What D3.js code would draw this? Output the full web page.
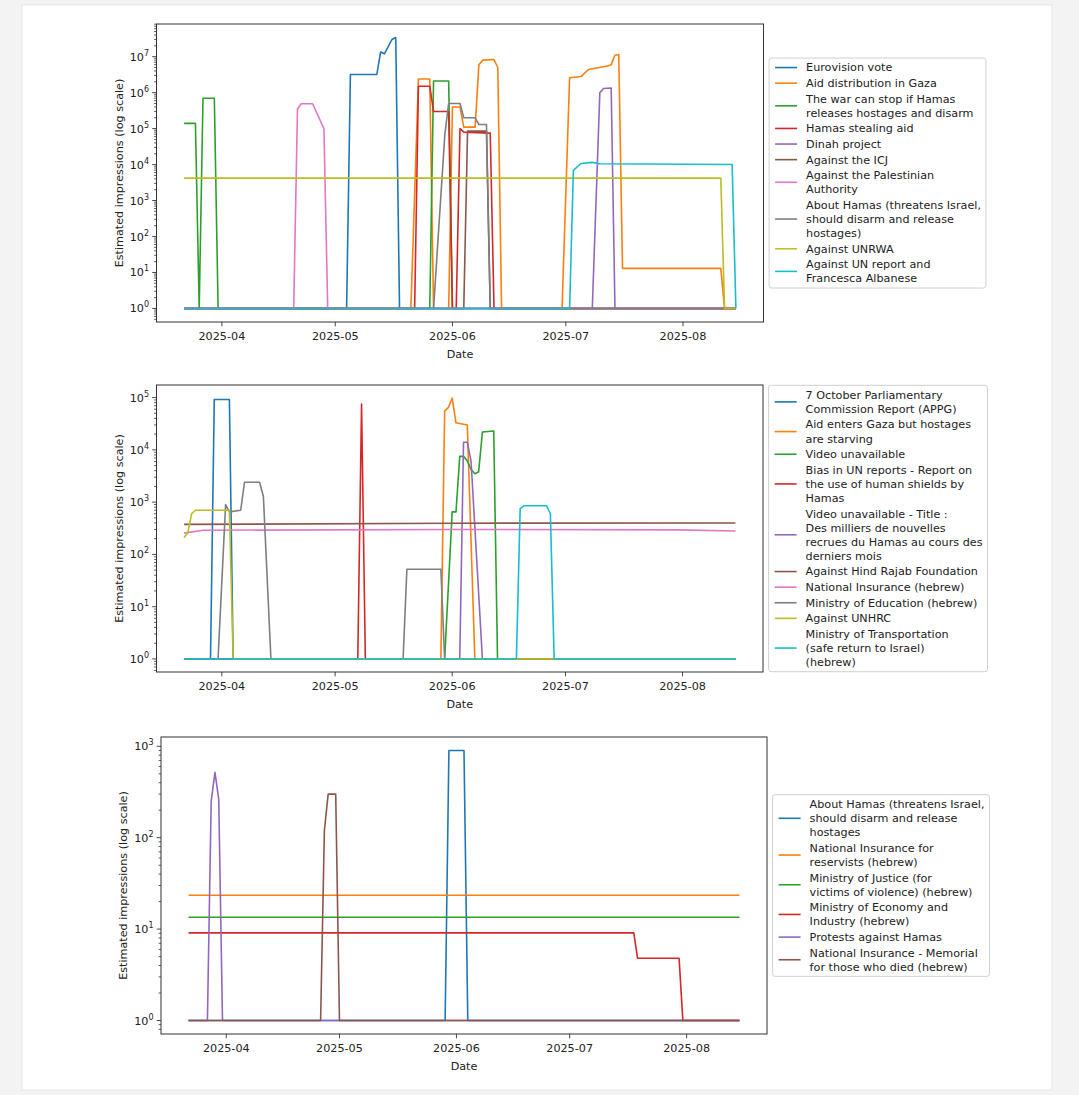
<!DOCTYPE html>
<html>
<head>
<meta charset="utf-8">
<script src="https://cdn.jsdelivr.net/npm/d3@7"></script>
<style>
  body { margin: 0; background: #f3f3f3; }
  text { font-family: "DejaVu Sans", sans-serif; fill: #222; }
</style>
</head>
<body>
<script>
// ---- data ----
var startDate = "2025-03-22", endDate = "2025-08-15";
var monthTicks = ["2025-04", "2025-05", "2025-06", "2025-07", "2025-08"];
var yLabel = "Estimated impressions (log scale)";
var xLabel = "Date";
var palette = ["#1f77b4", "#ff7f0e", "#2ca02c", "#d62728", "#9467bd",
               "#8c564b", "#e377c2", "#7f7f7f", "#bcbd22", "#17becf"];

// top panel
var topNames = ["Eurovision vote", "Aid distribution in Gaza",
  "The war can stop if Hamas\nreleases hostages and disarm", "Hamas stealing aid",
  "Dinah project", "Against the ICJ", "Against the Palestinian\nAuthority",
  "About Hamas (threatens Israel,\nshould disarm and release\nhostages)",
  "Against UNRWA", "Against UN report and\nFrancesca Albanese"];
var eurovision = [["2025-03-22",1],["2025-05-04",1],["2025-05-05",3.2e6],["2025-05-12",3.2e6],["2025-05-13",1.35e7],["2025-05-14",1.2e7],["2025-05-16",3.0e7],["2025-05-17",3.4e7],["2025-05-18",1],["2025-08-15",1]];
var aidDistribution = [["2025-03-22",1],["2025-05-21",1],["2025-05-23",2.4e6],["2025-05-26",2.4e6],["2025-05-27",1],["2025-05-31",1],["2025-06-01",4e5],["2025-06-03",4e5],["2025-06-04",1.1e5],["2025-06-07",1.1e5],["2025-06-08",6e6],["2025-06-09",8e6],["2025-06-12",8.3e6],["2025-06-13",5e6],["2025-06-14",1],["2025-06-30",1],["2025-07-02",2.6e6],["2025-07-05",2.8e6],["2025-07-07",4.4e6],["2025-07-12",5.5e6],["2025-07-13",6e6],["2025-07-14",1.1e7],["2025-07-15",1.15e7],["2025-07-16",13],["2025-08-11",13],["2025-08-12",1],["2025-08-15",1]];
var warCanStop = [["2025-03-22",1.4e5],["2025-03-25",1.4e5],["2025-03-26",1],["2025-03-27",7e5],["2025-03-30",7e5],["2025-03-31",1],["2025-05-26",1],["2025-05-27",2.1e6],["2025-05-31",2.1e6],["2025-06-01",1],["2025-08-15",1]];
var hamasStealing = [["2025-03-22",1],["2025-05-22",1],["2025-05-23",1.5e6],["2025-05-26",1.5e6],["2025-05-27",3e5],["2025-05-31",3e5],["2025-06-01",1],["2025-06-02",1],["2025-06-03",1e5],["2025-06-04",8e4],["2025-06-11",7.5e4],["2025-06-12",1],["2025-08-15",1]];
var dinah = [["2025-03-22",1],["2025-07-08",1],["2025-07-10",1.0e6],["2025-07-11",1.3e6],["2025-07-13",1.35e6],["2025-07-14",1],["2025-08-15",1]];
var againstICJ = [["2025-03-22",1],["2025-06-04",1],["2025-06-05",8.5e4],["2025-06-10",8.5e4],["2025-06-11",1],["2025-08-15",1]];
var palestinianAuth = [["2025-03-22",1],["2025-04-20",1],["2025-04-21",3.5e5],["2025-04-22",4.9e5],["2025-04-25",4.9e5],["2025-04-28",1e5],["2025-04-29",1],["2025-08-15",1]];
var aboutHamas = [["2025-03-22",1],["2025-05-27",1],["2025-05-30",7e4],["2025-05-31",5e5],["2025-06-03",5e5],["2025-06-04",2e5],["2025-06-07",2e5],["2025-06-08",1.3e5],["2025-06-10",1.3e5],["2025-06-11",1],["2025-08-15",1]];
var unrwa = [["2025-03-22",4.2e3],["2025-08-11",4.2e3],["2025-08-12",1],["2025-08-15",1]];
var unReport = [["2025-03-22",1],["2025-07-02",1],["2025-07-03",6.9e3],["2025-07-05",1.07e4],["2025-07-08",1.15e4],["2025-07-10",1.05e4],["2025-08-14",1.0e4],["2025-08-15",1]];
var topSeries = [eurovision, aidDistribution, warCanStop, hamasStealing, dinah, againstICJ, palestinianAuth, aboutHamas, unrwa, unReport];

// middle panel
var midNames = ["7 October Parliamentary\nCommission Report (APPG)",
  "Aid enters Gaza but hostages\nare starving", "Video unavailable",
  "Bias in UN reports - Report on\nthe use of human shields by\nHamas",
  "Video unavailable - Title :\nDes milliers de nouvelles\nrecrues du Hamas au cours des\nderniers mois",
  "Against Hind Rajab Foundation", "National Insurance (hebrew)",
  "Ministry of Education (hebrew)", "Against UNHRC",
  "Ministry of Transportation\n(safe return to Israel)\n(hebrew)"];
var appg = [["2025-03-22",1],["2025-03-29",1],["2025-03-30",9.2e4],["2025-04-03",9.2e4],["2025-04-04",1],["2025-08-15",1]];
var aidEnters = [["2025-03-22",1],["2025-05-29",1],["2025-05-30",5.5e4],["2025-05-31",6.5e4],["2025-06-01",9.8e4],["2025-06-02",3.3e4],["2025-06-05",3.0e4],["2025-06-07",1],["2025-08-15",1]];
var videoUnavailable = [["2025-03-22",1],["2025-05-30",1],["2025-06-01",650],["2025-06-02",650],["2025-06-03",7.5e3],["2025-06-04",7.5e3],["2025-06-05",6.2e3],["2025-06-06",4.2e3],["2025-06-07",3.5e3],["2025-06-08",3.8e3],["2025-06-09",2.2e4],["2025-06-12",2.3e4],["2025-06-13",1],["2025-08-15",1]];
var biasUN = [["2025-03-22",1],["2025-05-07",1],["2025-05-08",7.5e4],["2025-05-09",1],["2025-08-15",1]];
var videoTitle = [["2025-03-22",1],["2025-06-03",1],["2025-06-04",1.4e4],["2025-06-05",1.4e4],["2025-06-06",6e3],["2025-06-09",1],["2025-08-15",1]];
var hindRajab = [["2025-03-22",375],["2025-06-01",395],["2025-08-15",400]];
var nationalInsurance = [["2025-03-22",255],["2025-03-27",290],["2025-06-01",300],["2025-07-31",295],["2025-08-15",280]];
var education = [["2025-03-22",1],["2025-03-31",1],["2025-04-02",900],["2025-04-03",650],["2025-04-06",700],["2025-04-07",2.4e3],["2025-04-11",2.4e3],["2025-04-12",1.3e3],["2025-04-14",1],["2025-05-19",1],["2025-05-20",52],["2025-05-29",52],["2025-05-30",1],["2025-08-15",1]];
var unhrc = [["2025-03-22",210],["2025-03-23",260],["2025-03-24",600],["2025-03-25",700],["2025-04-03",700],["2025-04-04",1],["2025-08-15",1]];
var transportation = [["2025-03-22",1],["2025-06-18",1],["2025-06-19",750],["2025-06-20",850],["2025-06-26",850],["2025-06-27",600],["2025-06-28",1],["2025-08-15",1]];
var midSeries = [appg, aidEnters, videoUnavailable, biasUN, videoTitle, hindRajab, nationalInsurance, education, unhrc, transportation];

// bottom panel
var botNames = ["About Hamas (threatens Israel,\nshould disarm and release\nhostages",
  "National Insurance for\nreservists (hebrew)",
  "Ministry of Justice (for\nvictims of violence) (hebrew)",
  "Ministry of Economy and\nIndustry (hebrew)", "Protests against Hamas",
  "National Insurance - Memorial\nfor those who died (hebrew)"];
var aboutHamas2 = [["2025-03-22",1],["2025-05-29",1],["2025-05-30",900],["2025-06-03",900],["2025-06-04",1],["2025-08-15",1]];
var reservists = [["2025-03-22",23.5],["2025-08-15",23.5]];
var justice = [["2025-03-22",13.5],["2025-08-15",13.5]];
var economy = [["2025-03-22",9.1],["2025-07-18",9.1],["2025-07-19",4.8],["2025-07-30",4.8],["2025-07-31",1],["2025-08-15",1]];
var protests = [["2025-03-22",1],["2025-03-27",1],["2025-03-28",250],["2025-03-29",520],["2025-03-30",265],["2025-03-31",1],["2025-08-15",1]];
var memorial = [["2025-03-22",1],["2025-04-26",1],["2025-04-27",120],["2025-04-28",300],["2025-04-30",300],["2025-05-01",1],["2025-08-15",1]];
var botSeries = [aboutHamas2, reservists, justice, economy, protests, memorial];

// ---- layout ----
var W = 1079, H = 1095;
var panels = [
  {names: topNames, series: topSeries, left: 156.5, right: 763.5, top: 24, bottom: 322},
  {names: midNames, series: midSeries, left: 156.5, right: 763, top: 385, bottom: 672},
  {names: botNames, series: botSeries, left: 161, right: 767, top: 737, bottom: 1034}
];
var fontSize = 11.2;
var parseDay = d3.utcParse("%Y-%m-%d");
var parseMonth = d3.utcParse("%Y-%m");

var svg = d3.select("body").append("svg")
    .attr("width", W).attr("height", H)
    .style("display", "block");

// card background
svg.append("rect").attr("x", 22).attr("y", 5).attr("width", 1030).attr("height", 1085)
    .attr("fill", "#fff").attr("stroke", "#e6e6e6");

panels.forEach(function (P, pi) {
    var t0 = parseDay(startDate), t1 = parseDay(endDate);
    var span = t1 - t0;
    var x = d3.scaleUtc()
        .domain([new Date(+t0 - 0.05 * span), new Date(+t1 + 0.05 * span)])
        .range([P.left, P.right]);

    // matplotlib-like 5% margin in log space
    var lo = Math.log10(d3.min(P.series, function (s) { return d3.min(s, function (d) { return d[1]; }); }));
    var hi = Math.log10(d3.max(P.series, function (s) { return d3.max(s, function (d) { return d[1]; }); }));
    var pad = 0.05 * (hi - lo);
    var y = d3.scaleLog()
        .domain([Math.pow(10, lo - pad), Math.pow(10, hi + pad)])
        .range([P.bottom, P.top]);

    var g = svg.append("g").attr("class", "panel" + pi);

    g.append("clipPath").attr("id", "clip" + pi)
        .append("rect")
        .attr("x", P.left).attr("y", P.top)
        .attr("width", P.right - P.left).attr("height", P.bottom - P.top);

    var line = d3.line()
        .x(function (d) { return x(parseDay(d[0])); })
        .y(function (d) { return y(d[1]); });

    g.append("g").attr("clip-path", "url(#clip" + pi + ")")
        .selectAll("path")
        .data(P.series)
        .enter().append("path")
        .attr("d", line)
        .attr("fill", "none")
        .attr("stroke", function (d, i) { return palette[i]; })
        .attr("stroke-width", 1.6)
        .attr("stroke-linejoin", "round");

    // y ticks (log)
    var d0 = Math.log10(y.domain()[0]), d1 = Math.log10(y.domain()[1]);
    var minors = [];
    for (var k = Math.floor(d0); k <= Math.ceil(d1); k++) {
        for (var m = 2; m <= 9; m++) {
            var v = m * Math.pow(10, k);
            if (v >= y.domain()[0] && v <= y.domain()[1]) minors.push(v);
        }
    }
    g.selectAll("line.minor").data(minors).enter().append("line")
        .attr("x1", P.left - 2.4).attr("x2", P.left)
        .attr("y1", function (d) { return y(d); }).attr("y2", function (d) { return y(d); })
        .attr("stroke", "#333").attr("stroke-width", 0.8);

    var majors = d3.range(Math.ceil(d0), Math.floor(d1) + 1);
    g.selectAll("line.major").data(majors).enter().append("line")
        .attr("x1", P.left - 4.3).attr("x2", P.left)
        .attr("y1", function (d) { return y(Math.pow(10, d)); })
        .attr("y2", function (d) { return y(Math.pow(10, d)); })
        .attr("stroke", "#333").attr("stroke-width", 0.9);
    var yt = g.selectAll("text.ytick").data(majors).enter().append("text")
        .attr("x", P.left - 7.5)
        .attr("y", function (d) { return y(Math.pow(10, d)) + 4; })
        .attr("text-anchor", "end")
        .style("font-size", fontSize + "px");
    yt.append("tspan").text("10");
    yt.append("tspan").attr("dy", -5).style("font-size", "8px").text(function (d) { return d; });

    // x ticks (months)
    var mt = monthTicks.map(function (s) { return parseMonth(s); });
    g.selectAll("line.xtick").data(mt).enter().append("line")
        .attr("x1", function (d) { return x(d); }).attr("x2", function (d) { return x(d); })
        .attr("y1", P.bottom).attr("y2", P.bottom + 4.3)
        .attr("stroke", "#333").attr("stroke-width", 0.9);
    g.selectAll("text.xtick").data(monthTicks).enter().append("text")
        .attr("x", function (d, i) { return x(mt[i]); })
        .attr("y", P.bottom + 17.5)
        .attr("text-anchor", "middle")
        .style("font-size", fontSize + "px")
        .text(function (d) { return d; });

    // spines
    g.append("rect")
        .attr("x", P.left).attr("y", P.top)
        .attr("width", P.right - P.left).attr("height", P.bottom - P.top)
        .attr("fill", "none").attr("stroke", "#333").attr("stroke-width", 1);

    // axis labels
    g.append("text")
        .attr("x", (P.left + P.right) / 2).attr("y", P.bottom + 36)
        .attr("text-anchor", "middle").style("font-size", fontSize + "px")
        .text(xLabel);
    g.append("text")
        .attr("transform", "translate(" + (P.left - 34) + "," + ((P.top + P.bottom) / 2) + ") rotate(-90)")
        .attr("text-anchor", "middle").style("font-size", fontSize + "px")
        .text(yLabel);

    // legend, centred on the right of the axes
    var lineH = 14.1, gap = 1.5, lpad = 2.5;
    var lines = P.names.map(function (n) { return n.split("\n"); });
    var total = d3.sum(lines, function (l) { return l.length; });
    var legH = total * lineH + (lines.length - 1) * gap + 2 * lpad;
    var legX = P.right + 5.6;
    var legY = (P.top + P.bottom) / 2 - legH / 2;
    var leg = g.append("g");
    var frame = leg.append("rect")
        .attr("x", legX).attr("y", legY).attr("height", legH)
        .attr("rx", 2.5).attr("ry", 2.5)
        .attr("fill", "#fff").attr("fill-opacity", 0.8)
        .attr("stroke", "#d0d0d0").attr("stroke-width", 1);
    var cy = legY + lpad;
    var maxW = 0;
    lines.forEach(function (l, i) {
        var blockH = l.length * lineH;
        leg.append("line")
            .attr("x1", legX + 6).attr("x2", legX + 28)
            .attr("y1", cy + blockH / 2).attr("y2", cy + blockH / 2)
            .attr("stroke", palette[i]).attr("stroke-width", 1.6);
        l.forEach(function (s, j) {
            var t = leg.append("text")
                .attr("x", legX + 37)
                .attr("y", cy + j * lineH + lineH / 2)
                .attr("dy", "0.35em")
                .style("font-size", fontSize + "px")
                .text(s);
            maxW = Math.max(maxW, t.node().getComputedTextLength());
        });
        cy += blockH + gap;
    });
    frame.attr("width", 37 + maxW + 5);
});
</script>
</body>
</html>
